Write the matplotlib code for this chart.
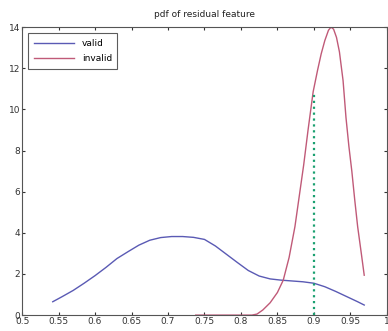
import matplotlib
matplotlib.use('Agg')
import numpy as np
from matplotlib import pyplot as plt

# data
valid_x = [0.542, 0.555, 0.570, 0.585, 0.600, 0.615, 0.630, 0.645, 0.660, 0.675,
           0.690, 0.705, 0.720, 0.735, 0.750, 0.765, 0.780, 0.795, 0.810, 0.825,
           0.840, 0.855, 0.870, 0.885, 0.900, 0.915, 0.930, 0.945, 0.960, 0.969]
valid_y = [0.65, 0.90, 1.20, 1.55, 1.92, 2.32, 2.75, 3.08, 3.40, 3.64,
           3.77, 3.82, 3.82, 3.78, 3.68, 3.36, 2.96, 2.56, 2.17, 1.90,
           1.76, 1.70, 1.66, 1.62, 1.55, 1.38, 1.15, 0.90, 0.65, 0.49]

invalid_x = [0.738, 0.800, 0.815, 0.822, 0.830, 0.840, 0.850, 0.858, 0.866, 0.874,
             0.880, 0.886, 0.892, 0.899, 0.905, 0.910, 0.915, 0.920, 0.9235, 0.927,
             0.931, 0.935, 0.940, 0.944, 0.948, 0.952, 0.956, 0.960, 0.965, 0.969]
invalid_y = [0.0, 0.0, 0.0, 0.05, 0.25, 0.60, 1.10, 1.70, 2.80, 4.30,
             5.80, 7.30, 9.00, 10.86, 11.90, 12.70, 13.35, 13.85, 14.0, 13.9,
             13.5, 12.8, 11.4, 9.6, 8.2, 7.0, 5.6, 4.3, 3.0, 1.94]

thresh_x = 0.9
thresh_top = 10.86

xticks = [0.5, 0.55, 0.6, 0.65, 0.7, 0.75, 0.8, 0.85, 0.9, 0.95, 1.0]
xtick_labels = ['0.5', '0.55', '0.6', '0.65', '0.7', '0.75', '0.8', '0.85', '0.9', '0.95', '1']
yticks = [0, 2, 4, 6, 8, 10, 12, 14]

fig = plt.figure(figsize=(3.88, 3.31), dpi=100)
ax = fig.add_axes([0.057, 0.048, 0.94, 0.870])

ax.plot(valid_x, valid_y, color='#5a5ab4', lw=1.0, label='valid')
ax.plot(invalid_x, invalid_y, color='#c05a78', lw=1.0, label='invalid')
ax.plot([thresh_x, thresh_x], [0, thresh_top], color='#1aa070', lw=1.6, ls=':')

ax.set_xlim(0.5, 1.0)
ax.set_ylim(0, 14)
ax.set_xticks(xticks)
ax.set_xticklabels(xtick_labels)
ax.set_yticks(yticks)
ax.tick_params(direction='in', length=2.5, labelsize=6.5, pad=1.5,
               top=True, right=True, colors='#333333')
for s in ax.spines.values():
    s.set_color('#555555')
    s.set_linewidth(0.8)
ax.set_title('pdf of residual feature', fontsize=6.5, pad=7, color='#222222')

leg = ax.legend(loc='upper left', fontsize=6.5, frameon=True, fancybox=False,
                borderaxespad=0.7, handlelength=4.5, labelspacing=0.7,
                borderpad=0.6)
leg.get_frame().set_edgecolor('#333333')
leg.get_frame().set_linewidth(0.8)

fig.savefig('out.png', dpi=100)
